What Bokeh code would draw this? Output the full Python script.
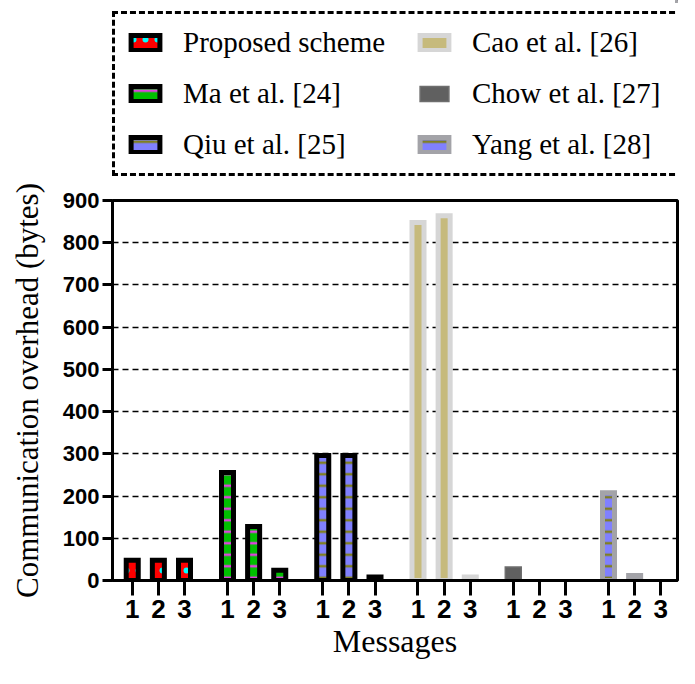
from bokeh.plotting import figure
from bokeh.layouts import column
from bokeh.models import (Range1d, FixedTicker, CustomJSTickFormatter, Legend,
                          LegendItem, ColumnDataSource)
from bokeh.embed import file_html
from bokeh.resources import INLINE

# ---------------- data ----------------
schemes = ["Proposed scheme", "Ma et al. [24]", "Qiu et al. [25]",
           "Cao et al. [26]", "Chow et al. [27]", "Yang et al. [28]"]
messages = ["1", "2", "3"]
proposed_values = [48, 48, 48]
ma_values = [256, 128, 24]
qiu_values = [296, 296, 8]
cao_values = [848, 864, 8]
chow_values = [32, 0, 0]
yang_values = [208, 12, 0]
series_values = [proposed_values, ma_values, qiu_values,
                 cao_values, chow_values, yang_values]
y_ticks = [0, 100, 200, 300, 400, 500, 600, 700, 800, 900]

# ---------------- styles ----------------
GROUP_STEP = 3.645
styles = [
    dict(fill_color="#FF0000", line_color="black", line_width=5,
         hatch_pattern="dot", hatch_color="#00FFFF", hatch_scale=12, hatch_weight=2),
    dict(fill_color="#00C000", line_color="black", line_width=5,
         hatch_pattern="horizontal_line", hatch_color="#E040E0", hatch_scale=11.5, hatch_weight=2.5),
    dict(fill_color="#8080FF", line_color="black", line_width=5,
         hatch_pattern="horizontal_line", hatch_color="#808020", hatch_scale=11.5, hatch_weight=2.5),
    dict(fill_color="#C6BA7C", line_color="#D6D6D6", line_width=5),
    dict(fill_color="#606060", line_color="#6E6E6E", line_width=1.5),
    dict(fill_color="#8080FF", line_color="#A3A3A8", line_width=5,
         hatch_pattern="horizontal_line", hatch_color="#808020", hatch_scale=11.5, hatch_weight=2.5),
]
bar_widths = [0.46, 0.46, 0.46, 0.46, 0.61, 0.46]

positions = []
for g in range(len(schemes)):
    for k in range(len(messages)):
        positions.append(g * GROUP_STEP + k + 1)

sources = []
for g, vals in enumerate(series_values):
    xs = [g * GROUP_STEP + k + 1 for k in range(len(messages))]
    keep = [(x, v) for x, v in zip(xs, vals) if v > 0]
    sources.append(ColumnDataSource(dict(x=[a for a, _ in keep], top=[b for _, b in keep])))

LEG_H = 180
p = figure(width=679, height=668 - LEG_H, output_backend="svg", toolbar_location=None,
           x_range=Range1d(positions[0] - 0.755, positions[-1] + 0.64),
           y_range=Range1d(y_ticks[0], y_ticks[-1]),
           min_border_left=112, min_border_right=2, min_border_top=20,
           min_border_bottom=88)

for g in range(len(schemes)):
    p.vbar(x="x", top="top", bottom=0, width=bar_widths[g], source=sources[g],
           line_join="miter", **styles[g])

# ---------------- axes ----------------
p.xaxis.ticker = FixedTicker(ticks=positions)
p.xaxis.formatter = CustomJSTickFormatter(args=dict(labels=messages * len(schemes)),
                                          code="return labels[index];")
p.yaxis.ticker = FixedTicker(ticks=y_ticks)
p.xaxis.axis_label = "Messages"
p.yaxis.axis_label = "Communication overhead (bytes)"
for ax in (p.xaxis[0], p.yaxis[0]):
    ax.axis_line_width = 3
    ax.axis_line_color = "black"
    ax.major_tick_line_width = 3
    ax.major_tick_line_color = "black"
    ax.major_tick_in = 0
    ax.minor_tick_line_color = None
    ax.major_label_text_font = "Liberation Sans"
    ax.major_label_text_font_style = "bold"
    ax.major_label_text_color = "black"
    ax.axis_label_text_font = "Liberation Serif"
    ax.axis_label_text_font_style = "normal"
    ax.axis_label_text_color = "black"
p.xaxis.axis_label_text_font_size = "32px"
p.yaxis.axis_label_text_font_size = "31px"
p.xaxis.major_tick_out = 15
p.yaxis.major_tick_out = 10
p.xaxis.major_label_text_font_size = "26px"
p.yaxis.major_label_text_font_size = "22px"
p.xaxis.major_label_standoff = 4
p.yaxis.major_label_standoff = 3
p.xaxis.axis_label_standoff = 2
p.yaxis.axis_label_standoff = 15

p.xgrid.grid_line_color = None
p.ygrid.ticker = FixedTicker(ticks=y_ticks)
p.ygrid.grid_line_color = "black"
p.ygrid.grid_line_dash = "6 4"
p.ygrid.grid_line_width = 1.5

p.outline_line_color = "black"
p.outline_line_width = 3
p.background_fill_color = "white"

# ---------------- legend (strip above the chart) ----------------
lf = figure(width=679, height=LEG_H, output_backend="svg", toolbar_location=None,
            x_axis_type=None, y_axis_type=None,
            x_range=Range1d(-100, -99), y_range=Range1d(-100, -99),
            min_border_left=0, min_border_right=0, min_border_top=0, min_border_bottom=0)
lf.grid.visible = False
lf.outline_line_color = None
items = []
for g, name in enumerate(schemes):
    r = lf.vbar(x="x", top="top", bottom=0, width=bar_widths[g], source=sources[g],
                line_join="miter", **styles[g])
    items.append(LegendItem(label=name, renderers=[r]))

legend = Legend(items=items, ncols=2, location=(0, 4),
                label_text_font="Liberation Serif", label_text_font_size="29px",
                label_text_color="black",
                glyph_width=36, glyph_height=19, label_height=33, label_width=215,
                label_standoff=20, spacing=18, padding=12,
                border_line_color="black", border_line_width=3, border_line_alpha=1.0,
                border_line_dash="1 8", border_line_cap="round",
                background_fill_color="white", background_fill_alpha=1.0)
lf.add_layout(legend, "center")

open("out.html", "w").write(file_html(column(lf, p, spacing=0), INLINE))
